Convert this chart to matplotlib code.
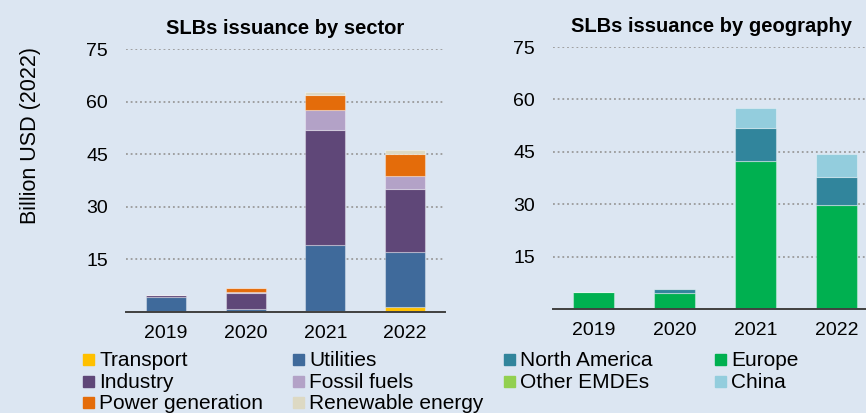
import numpy as np
import matplotlib
matplotlib.use("Agg")
import matplotlib.pyplot as plt
from matplotlib.patches import Rectangle

plt.rcParams['font.family'] = ['Liberation Sans', 'DejaVu Sans']

years = ["2019", "2020", "2021", "2022"]

# SLBs by sector, billion USD (2022)
transport = [0.0, 0.0, 0.4, 1.3]
utilities = [4.2, 0.8, 18.6, 15.7]
industry = [0.7, 4.7, 32.9, 18.0]
fossil_fuels = [0.0, 0.2, 5.6, 3.8]
power_generation = [0.0, 1.1, 4.5, 6.2]
renewable_energy = [0.0, 0.0, 0.8, 1.1]

# SLBs by geography, billion USD (2022)
europe = [5.0, 4.7, 42.5, 29.8]
other_emdes = [0.0, 0.0, 0.0, 0.0]
north_america = [0.0, 1.1, 9.3, 8.1]
china = [0.0, 0.0, 5.7, 6.6]

yticks = [15, 30, 45, 60, 75]

sector_series = [
    ("Transport", transport, "#FFC000"),
    ("Utilities", utilities, "#3F6A9B"),
    ("Industry", industry, "#5F4778"),
    ("Fossil fuels", fossil_fuels, "#B3A2C7"),
    ("Power generation", power_generation, "#E46C0A"),
    ("Renewable energy", renewable_energy, "#DDD9C3"),
]
geo_series = [
    ("Europe", europe, "#00B050"),
    ("Other EMDEs", other_emdes, "#92D050"),
    ("North America", north_america, "#31859C"),
    ("China", china, "#93CDDD"),
]
legend_sector = ["Transport", "Utilities", "Industry", "Fossil fuels",
                 "Power generation", "Renewable energy"]
legend_geo = ["North America", "Europe", "Other EMDEs", "China"]

bg = "#DCE6F2"
fig = plt.figure(figsize=(8.66, 4.13), dpi=100, facecolor=bg)
W, H = 866, 413


def make_axes(x0, x1, y0, y1):
    return fig.add_axes([x0 / W, 1 - y1 / H, (x1 - x0) / W, (y1 - y0) / H])


def draw_stack(ax, series, title):
    ax.set_facecolor(bg)
    x = np.arange(len(years))
    bottom = np.zeros(len(years))
    for name, vals, col in series:
        vals = np.array(vals)
        ax.bar(x, vals, 0.5, bottom=bottom, color=col,
               edgecolor=(1, 1, 1, 0.35), linewidth=0.8, zorder=3)
        bottom += vals
    ax.set_xlim(-0.5, 3.5)
    ax.set_ylim(0, 75)
    ax.set_yticks(yticks)
    ax.set_xticks(x)
    ax.set_xticklabels(years)
    for t in yticks:
        ax.axhline(t, color="#9A9A9A", linestyle=(0, (1, 1.6)), linewidth=1.3, zorder=1)
    for s in ["top", "right", "left"]:
        ax.spines[s].set_visible(False)
    ax.spines["bottom"].set_color("#404040")
    ax.spines["bottom"].set_linewidth(1.4)
    ax.spines["bottom"].set_zorder(4)
    ax.tick_params(length=0, labelsize=14, colors="black")
    ax.tick_params(axis="y", pad=13)
    ax.tick_params(axis="x", pad=9.5)
    ax.set_title(title, fontsize=14.5, fontweight="bold", pad=11)


ax1 = make_axes(126, 445, 49, 312)
draw_stack(ax1, sector_series, "SLBs issuance by sector")
ax1.set_ylabel("Billion USD (2022)", fontsize=15.5)
ax1.yaxis.set_label_coords(-0.268, 0.67)

ax2 = make_axes(553, 877, 47, 309)
draw_stack(ax2, geo_series, "SLBs issuance by geography")
ax2.title.set_position((0.49, 1.0))

colors = {n: c for n, _, c in sector_series + geo_series}


def legend_block(names, x_cols, baselines):
    for i, name in enumerate(names):
        tx = x_cols[i % 2]
        by = baselines[i // 2]
        fig.add_artist(Rectangle(((tx - 16) / W, 1 - (by - 1) / H), 11 / W, 11 / H,
                                 transform=fig.transFigure, color=colors[name]))
        fig.text(tx / W, 1 - by / H, name, fontsize=15, va="baseline", ha="left")


rows = [366, 387.5, 409]
legend_block(legend_sector, [99, 309], rows)
legend_block(legend_geo, [520, 731], rows)

fig.savefig("out.png", dpi=100, facecolor=bg)
